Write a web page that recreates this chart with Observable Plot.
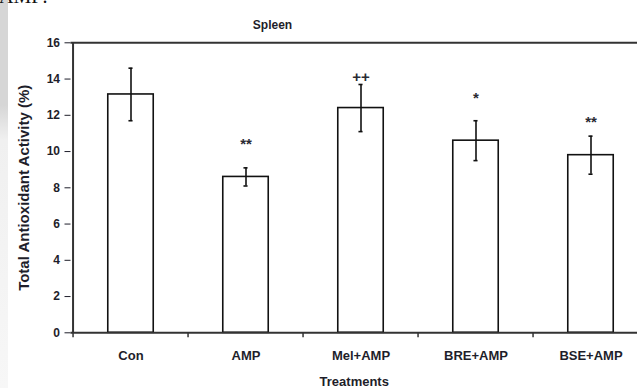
<!DOCTYPE html>
<html>
<head>
<meta charset="utf-8">
<script src="https://cdn.jsdelivr.net/npm/d3@7"></script>
<script src="https://cdn.jsdelivr.net/npm/@observablehq/plot@0.6"></script>
<style>
  html, body { margin: 0; padding: 0; background: #fff; width: 637px; height: 388px; overflow: hidden; position: relative; }
  #strip { position: absolute; left: 0; top: 0; width: 8px; height: 388px;
    background: linear-gradient(to bottom, #d6d6d6 0px, #d6d6d6 105px, #f0f0f0 140px, #f7f7f7 388px); }
  #doc { position: absolute; left: -1px; top: -15px; font: 20px "Liberation Serif", serif; color: #111; }
  #chart { position: absolute; left: 0; top: 0; }
</style>
</head>
<body>
<div id="strip"></div>
<div id="doc">AMP:</div>
<div id="chart"></div>
<script>
const categories = ["Con", "AMP", "Mel+AMP", "BRE+AMP", "BSE+AMP"];
const values = [13.15, 8.6, 12.4, 10.6, 9.8];
const errors = [1.45, 0.5, 1.3, 1.1, 1.05];
const marks = ["", "**", "++", "*", "**"];
const markLevels = [null, 10.4, 14.1, 12.95, 11.6];
const yTicks = [0, 2, 4, 6, 8, 10, 12, 14, 16];
const title = "Spleen";
const yLabel = "Total Antioxidant Activity (%)";
const xLabel = "Treatments";

(function () {
  const data = categories.map((c, i) => ({
    cat: c, v: values[i], lo: values[i] - errors[i], hi: values[i] + errors[i],
    mark: marks[i], level: markLevels[i]
  }));

  const W = 637, H = 388;
  const mLeft = 70.5, xEnd = 650, mTop = 42.3, yBottom = 332.3;
  const band = (xEnd - mLeft) / categories.length;
  const font = "Liberation Sans, Arial, sans-serif";

  const plot = Plot.plot({
    width: W, height: H,
    marginLeft: mLeft, marginRight: 0, marginTop: mTop, marginBottom: H - yBottom,
    style: { fontFamily: font, fontWeight: "bold", color: "#1e1e2a", background: "transparent", overflow: "visible" },
    x: { domain: categories, range: [mLeft, xEnd], padding: 0 },
    y: { domain: [0, 16], range: [yBottom, mTop] },
    marks: [
      Plot.barY(data, { x: "cat", y: "v", fill: "white", stroke: "#111", strokeWidth: 1.6, insetLeft: band * 0.3, insetRight: band * 0.3 }),
      Plot.ruleX(data, { x: "cat", y1: "lo", y2: "hi", stroke: "#111", strokeWidth: 1.6 }),
      Plot.tickY(data, { x: "cat", y: "lo", stroke: "#111", strokeWidth: 1.6, insetLeft: band / 2 - 2.5, insetRight: band / 2 - 2.5 }),
      Plot.tickY(data, { x: "cat", y: "hi", stroke: "#111", strokeWidth: 1.6, insetLeft: band / 2 - 2.5, insetRight: band / 2 - 2.5 }),
      Plot.text(data.filter(d => d.mark), { x: "cat", y: "level", text: "mark", fontSize: 15, fill: "#2a2a33", fontWeight: "bold" }),
      Plot.ruleY([0, 16], { stroke: "#333", strokeWidth: 2 }),
      Plot.ruleX(categories.slice(0, 1), { x: d => d, y1: 0, y2: 16, dx: -band / 2, stroke: "#333", strokeWidth: 2 }),
      Plot.ruleX(categories, { x: d => d, y1: 0, y2: -0.27, dx: -band / 2, stroke: "#333", strokeWidth: 1.5 }),
      Plot.axisY({ ticks: yTicks, tickSize: 6, tickPadding: 5, fontSize: 12, fontWeight: "bold", tickFormat: d => d,
        label: null }),
      Plot.text([yLabel], { frameAnchor: "left", textAnchor: "middle", rotate: -90, dx: -47, fontSize: 15, fontWeight: "bold",
        fill: "#1e1e2a" }),
      Plot.axisX({ tickSize: 0, tickPadding: 18, fontSize: 13, fontWeight: "bold", label: null }),
      Plot.axisX({ ticks: [], label: xLabel, labelAnchor: "center", labelOffset: 53, labelArrow: "none",
        fontSize: 13, fontWeight: "bold" }),
      Plot.text([title], { frameAnchor: "top", dy: -22, dx: 272 - (mLeft + W) / 2, fontSize: 12, fontWeight: "bold", fill: "#1e1e2a" })
    ]
  });
  document.getElementById("chart").appendChild(plot);
})();
</script>
</body>
</html>
